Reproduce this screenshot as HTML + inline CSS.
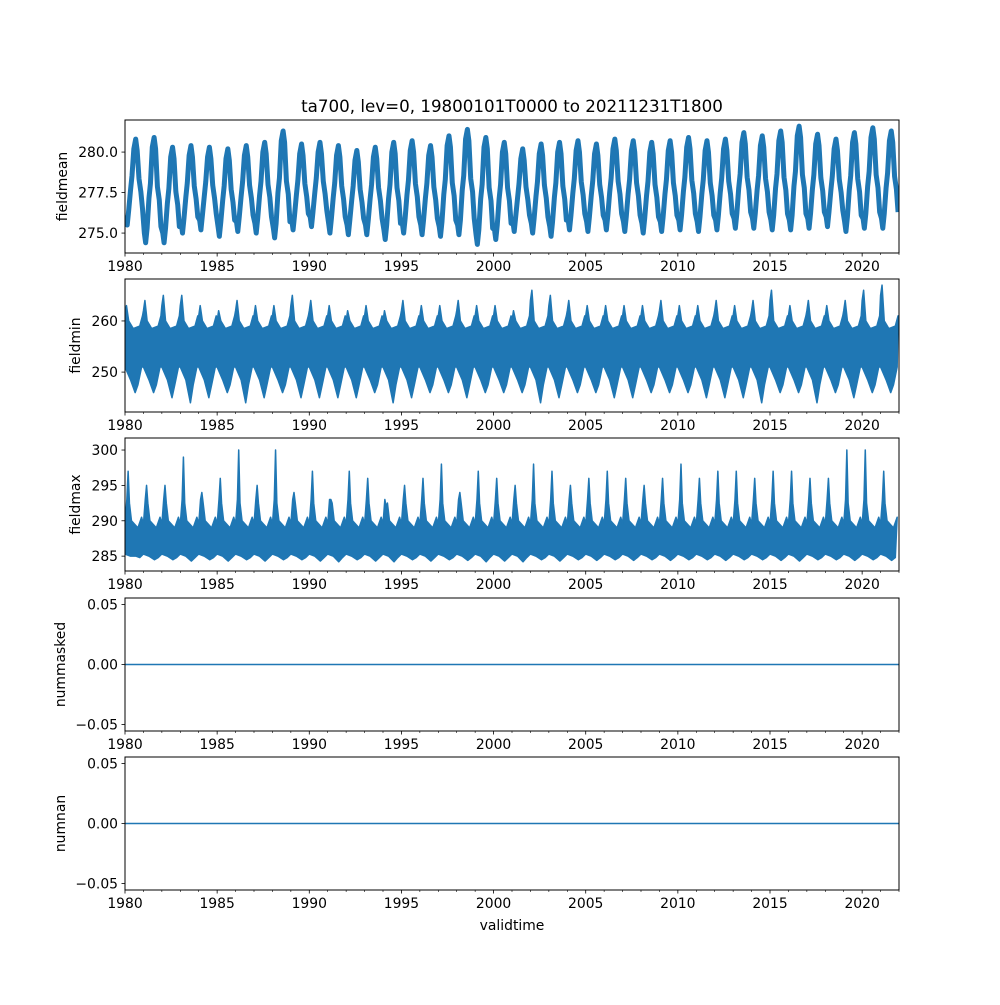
<!DOCTYPE html>
<html><head><meta charset="utf-8"><style>
body{margin:0;background:#fff}
svg text{font-family:"DejaVu Sans","Liberation Sans",sans-serif;font-size:13.9px;fill:#000}
</style></head><body>
<svg id="fig" width="1000" height="1000" xmlns="http://www.w3.org/2000/svg">
<rect width="1000" height="1000" fill="#fff"/>
<text x="512" y="112" text-anchor="middle" style="font-size:16.7px">ta700, lev=0, 19800101T0000 to 20211231T1800</text>
<text x="512" y="930" text-anchor="middle">validtime</text>
</svg>
<script>
const years=[];for(let y=1980;y<=2021;y++)years.push(y);
const xTicks=[1980,1985,1990,1995,2000,2005,2010,2015,2020];
const meanPeak=[280.8,280.9,280.3,280.4,280.3,280.2,280.4,280.6,281.3,280.5,280.6,280.4,280.1,280.3,280.6,280.7,280.4,281.0,281.4,280.9,280.6,280.2,280.5,280.6,280.7,280.5,280.8,280.7,280.6,280.7,280.9,280.7,280.8,281.2,281.0,281.3,281.6,281.1,280.8,281.2,281.5,281.3];
const meanTrough=[275.5,274.4,274.4,275.0,275.2,274.8,275.1,275.0,274.7,275.2,275.4,275.0,274.9,274.9,274.6,275.0,274.9,274.8,274.9,274.3,274.6,275.1,275.0,274.8,275.2,275.1,275.2,275.1,275.0,275.1,275.2,275.1,275.2,275.3,275.3,275.2,275.2,275.3,275.4,275.1,275.3,275.3];
const minPeak=[263,264,265,265,263,262,264,263,263,265,264,263,262,263,262,264,263,263,264,263,263,262,266,265,264,263,263,263,263,264,263,263,264,263,264,266,263,264,263,264,266,267];
const minTrough=[246,246,245,244,245,246,244,245,246,245,245,245,245,246,244,245,246,246,245,246,246,246,244,245,246,246,245,245,246,246,246,245,245,245,244,246,246,244,246,245,246,246];
const maxPeak=[297,295,295,299,294,296,300,295,300,294,297,293,297,296,292,295,296,298,294,297,296,295,298,297,295,296,297,296,295,296,298,296,297,297,296,297,297,296,296,300,300,297];
const maxTrough=[285,284.5,284.5,284.3,284.5,284.3,284.5,284.3,284.5,284.5,284.3,284.2,284.5,284.3,284.2,284.5,284.3,284.5,284.4,284.2,284.3,284.2,284.5,284.3,284.5,284.4,284.5,284.4,284.5,284.4,284.5,284.5,284.4,284.5,284.5,284.4,284.3,284.5,284.5,284.4,284.5,284.4];
const zeroSeries=[0,0];
const panels=[
 {name:'fieldmean',top:120,lo:273.77,hi:281.98,ticks:[275,277.5,280],fmt:v=>v.toFixed(1),lx:62},
 {name:'fieldmin',top:279,lo:242.2,hi:268.2,ticks:[250,260],fmt:v=>String(v),lx:75},
 {name:'fieldmax',top:438,lo:282.9,hi:301.7,ticks:[285,290,295,300],fmt:v=>String(v),lx:75},
 {name:'nummasked',top:598,lo:-0.0555,hi:0.0555,ticks:[-0.05,0,0.05],fmt:v=>v.toFixed(2),lx:60},
 {name:'numnan',top:757,lo:-0.0555,hi:0.0555,ticks:[-0.05,0,0.05],fmt:v=>v.toFixed(2),lx:60}];
const L=125,R=899,H=133,C='#1f77b4';
const svg=document.getElementById('fig');const NS='http://www.w3.org/2000/svg';
function mk(t,a,p){const e=document.createElementNS(NS,t);for(const k in a)e.setAttribute(k,a[k]);(p||svg).appendChild(e);return e;}
const xs=v=>L+(v-1980)/(2022-1980)*(R-L);
panels.forEach((p,i)=>{
 const ys=v=>p.top+H-(v-p.lo)/(p.hi-p.lo)*H;
 const g=mk('g',{});
 
 
 const clip=mk('clipPath',{id:'c'+i},g);mk('rect',{x:L,y:p.top,width:R-L,height:H},clip);
 const sg=mk('g',{'clip-path':'url(#c'+i+')'},g);
 if(i===0){
  let pts=[];years.forEach((y,k)=>{const pk=meanPeak[k],tr=meanTrough[k],m=(pk+tr)/2;
   pts.push([y+0.05,tr+0.6],[y+0.12,tr],[y+0.2,tr+0.9],[y+0.3,m-0.5],[y+0.38,m+0.4],[y+0.48,pk-0.6],[y+0.58,pk],[y+0.66,pk-0.7],[y+0.76,m+0.2],[y+0.86,m-0.6],[y+0.95,tr+1.0]);});
  const l=mk('polyline',{points:pts.map(q=>xs(q[0])+','+ys(q[1])).join(' '),fill:'none',stroke:C,'stroke-width':5,'stroke-linejoin':'round'},sg);
  
 } else if(i===1||i===2){
  const pk=i===1?minPeak:maxPeak,tr=i===1?minTrough:maxTrough;
  let up=[],dn=[];
  years.forEach((y,k)=>{
   if(i===1){up.push([y+0.0,pk[k]-2],[y+0.08,pk[k]],[y+0.2,260],[y+0.45,258.5],[y+0.8,259],[y+0.95,261]);
    dn.push([y+0.0,251],[y+0.3,248.5],[y+0.55,tr[k]],[y+0.7,247.5],[y+0.9,251]);}
   else{up.push([y+0.0,289.5],[y+0.1,293],[y+0.17,pk[k]],[y+0.24,292.5],[y+0.35,290],[y+0.7,289],[y+0.9,290.5]);
    dn.push([y+0.0,285.3],[y+0.3,285],[y+0.6,tr[k]],[y+0.8,284.8]);}
  });
  const all=up.concat(dn.reverse());
  const pg=mk('polygon',{points:all.map(q=>xs(q[0])+','+ys(q[1])).join(' '),fill:C,stroke:C,'stroke-width':1.5,'stroke-linejoin':'round'},sg);
  
 } else {
  const l=mk('line',{x1:xs(1980),x2:xs(2022),y1:ys(zeroSeries[0]),y2:ys(zeroSeries[1]),stroke:C,'stroke-width':1.5},sg);
  
 }
 mk('rect',{x:L,y:p.top,width:R-L,height:H,fill:'none',stroke:'#000','stroke-width':1},g);
 const b=p.top+H;
 for(let y=1980;y<=2022;y++){const maj=xTicks.includes(y);mk('line',{x1:xs(y),x2:xs(y),y1:b,y2:b+(maj?3.5:2),stroke:'#000','stroke-width':maj?0.8:0.6},g);}
 xTicks.forEach(t=>{const tx=mk('text',{x:xs(t),y:b+18,'text-anchor':'middle'},g);tx.textContent=t;
  });
 p.ticks.forEach(t=>{const y=ys(t);mk('line',{x1:L-3.5,x2:L,y1:y,y2:y,stroke:'#000','stroke-width':0.8},g);
  const tx=mk('text',{x:L-7,y:y+5,'text-anchor':'end'},g);tx.textContent=p.fmt(t).replace('-','\u2212');
  });
 const yl=mk('text',{x:0,y:0,'text-anchor':'middle',transform:`translate(${p.lx+5},${p.top+H/2}) rotate(-90)`},g);
 yl.textContent=p.name;
});
</script>
</body></html>
